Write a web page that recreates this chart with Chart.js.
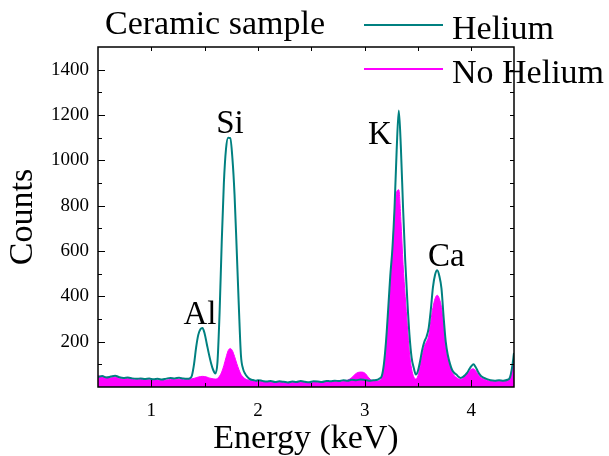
<!DOCTYPE html>
<html>
<head>
<meta charset="utf-8">
<title>Ceramic sample</title>
<script src="https://cdn.jsdelivr.net/npm/chart.js@4.4.0/dist/chart.umd.min.js"></script>
<style>
  html, body { margin: 0; padding: 0; background: #fff; }
  canvas { display: block; }
</style>
</head>
<body>
<canvas id="myChartSpectrum" width="609" height="456"></canvas>
<script>
// energy grid (keV), denser around the peaks
const energies = [
  0.50, 0.54, 0.58, 0.62, 0.66, 0.70, 0.74, 0.78, 0.82, 0.86, 0.90, 0.94, 0.98, 1.02, 1.06, 1.10, 1.14, 1.18, 1.22, 1.26, 1.30, 1.34,
  1.36, 1.38, 1.40, 1.42, 1.44, 1.46, 1.48, 1.50, 1.52, 1.54, 1.56, 1.58, 1.60, 1.62, 1.64, 1.66, 1.68, 1.70, 1.72, 1.74,
  1.76, 1.78, 1.80, 1.82, 1.84, 1.86, 1.88, 1.90, 1.92, 1.94, 1.96, 1.98, 2.00,
  2.04, 2.08, 2.12, 2.16, 2.20, 2.24, 2.28, 2.32, 2.36, 2.40, 2.44, 2.48, 2.52, 2.56, 2.60, 2.64, 2.68, 2.72, 2.76, 2.80,
  2.84, 2.88, 2.92, 2.96, 3.00, 3.04, 3.08,
  3.12, 3.14, 3.16, 3.18, 3.20, 3.22, 3.24, 3.26, 3.28, 3.30, 3.32, 3.34, 3.36, 3.38, 3.40, 3.42, 3.44, 3.46, 3.48, 3.50,
  3.52, 3.54, 3.56, 3.58, 3.60, 3.62, 3.64, 3.66, 3.68, 3.70, 3.72, 3.74, 3.76, 3.78, 3.80, 3.82, 3.84, 3.86, 3.88, 3.90,
  3.92, 3.94, 3.96, 3.98, 4.00, 4.02, 4.04, 4.06, 4.08, 4.10,
  4.14, 4.18, 4.22, 4.26, 4.30, 4.34, 4.36, 4.38, 4.40,
];

const helium = [
  44, 48, 42, 46, 50, 43, 40, 42, 38, 36, 38, 35, 37, 34, 36, 33, 37, 40, 38, 41, 37, 36,
  38, 50, 100, 175, 230, 255, 260, 235, 190, 145, 105, 75, 60, 110, 330, 640, 900, 1050, 1100, 1098,
  1010, 850, 610, 360, 140, 80, 58, 45, 36, 32, 30, 28, 30,
  27, 24, 26, 22, 25, 23, 20, 24, 22, 26, 23, 21, 25, 24, 22, 27, 25, 28, 26, 30,
  28, 32, 30, 33, 31, 28, 30,
  32, 38, 48, 100, 200, 340, 490, 610, 790, 1045, 1220, 1050, 790, 560, 381, 230, 130, 85, 55, 72,
  115, 165, 200, 222, 260, 340, 440, 495, 515, 490, 435, 310, 200, 140, 102, 75, 62, 55, 45, 40,
  44, 52, 62, 78, 92, 100, 88, 70, 55, 45,
  36, 30, 28, 30, 28, 32, 40, 80, 150,
];

const noHelium = [
  50, 46, 44, 40, 44, 38, 36, 38, 34, 32, 33, 31, 32, 30, 31, 29, 31, 33, 32, 33, 32, 33,
  34, 36, 38, 41, 44, 46, 47, 46, 44, 40, 38, 36, 35, 38, 48, 66, 95, 130, 160, 170,
  160, 135, 105, 78, 56, 44, 36, 32, 30, 28, 27, 26, 27,
  24, 22, 23, 20, 22, 21, 18, 21, 20, 23, 21, 19, 22, 21, 20, 24, 22, 25, 24, 27,
  30, 42, 60, 66, 62, 40, 26,
  26, 30, 40, 90, 180, 300, 440, 600, 770, 860, 870, 730, 540, 400, 270, 150, 80, 45, 35, 50,
  90, 140, 180, 200, 225, 290, 350, 390, 405, 390, 350, 270, 180, 125, 90, 65, 50, 42, 36, 34,
  40, 50, 60, 70, 78, 80, 72, 58, 46, 38,
  30, 26, 24, 26, 25, 30, 40, 80, 130,
];

const seriesLabels = ['Helium', 'No Helium'];
const peakLabels = ['Al', 'Si', 'K', 'Ca'];
const peakEnergy = [1.456, 1.737, 3.143, 3.766];
const peakCounts = [280, 1120, 1072, 533];
const chartTitle = 'Ceramic sample';
const xTitle = 'Energy (keV)';
const yTitle = 'Counts';

const serif = "'Liberation Serif', 'Times New Roman', serif";

// true when v sits on a multiple of step (float safe)
const onStep = (v, step) => Math.abs(v / step - Math.round(v / step)) < 1e-6;

const decorPlugin = {
  id: 'spectrumDecor',
  afterDraw(chart) {
    const {
      ctx,
      chartArea: { left, right, top, bottom },
      scales: { x, y },
    } = chart;
    ctx.save();
    ctx.fillStyle = '#000';

    // element labels on the peaks
    ctx.font = `33px ${serif}`;
    ctx.textAlign = 'center';
    ctx.textBaseline = 'alphabetic';
    peakLabels.forEach((label, i) => {
      ctx.fillText(label, x.getPixelForValue(peakEnergy[i]), y.getPixelForValue(peakCounts[i]));
    });

    // title
    ctx.font = `34px ${serif}`;
    ctx.textAlign = 'left';
    ctx.fillText(chartTitle, 105, 34);

    // legend
    chart.data.datasets.forEach((ds, i) => {
      const ly = 25 + i * 44;
      ctx.strokeStyle = ds.borderColor;
      ctx.lineWidth = 2;
      ctx.beginPath();
      ctx.moveTo(364, ly);
      ctx.lineTo(443, ly);
      ctx.stroke();
      ctx.fillText(ds.label, 452, ly + 14);
    });

    // inward ticks on all four sides
    ctx.strokeStyle = '#000';
    ctx.lineWidth = 1;
    ctx.beginPath();
    y.ticks.forEach((t) => {
      if (t.value <= 0 || t.value >= 1500) return;
      const py = Math.round(y.getPixelForValue(t.value)) + 0.5;
      const len = onStep(t.value, 200) ? 7 : 4;
      ctx.moveTo(left, py);
      ctx.lineTo(left + len, py);
      ctx.moveTo(right, py);
      ctx.lineTo(right - 4, py);
    });
    x.ticks.forEach((t) => {
      const v = t.value;
      if (v <= 0.51 || v >= 4.39 || !onStep(v, 0.5)) return;
      const px = Math.round(x.getPixelForValue(v)) + 0.5;
      const len = onStep(v, 1) ? 7 : 4;
      ctx.moveTo(px, bottom);
      ctx.lineTo(px, bottom - len);
      ctx.moveTo(px, top);
      ctx.lineTo(px, top + 4);
    });
    ctx.stroke();

    // frame
    ctx.lineWidth = 1.5;
    ctx.strokeRect(left, top, right - left, bottom - top);
    ctx.restore();
  },
};

function spectrumChart() {
  const ctx = document.getElementById('myChartSpectrum');

  if (ctx) {
    new Chart(ctx, {
      type: 'line',
      data: {
        datasets: [
          {
            label: seriesLabels[0],
            data: energies.map((e, i) => ({ x: e, y: helium[i] })),
            fill: false,
            pointRadius: 0,
            borderColor: '#008080',
            borderWidth: 2,
            cubicInterpolationMode: 'monotone',
          },
          {
            label: seriesLabels[1],
            data: energies.map((e, i) => ({ x: e, y: noHelium[i] })),
            fill: 'origin',
            pointRadius: 0,
            borderColor: '#FF00FF',
            backgroundColor: '#FF00FF',
            borderWidth: 1,
            cubicInterpolationMode: 'monotone',
          },
        ],
      },
      options: {
        responsive: false,
        animation: false,
        devicePixelRatio: 1,
        layout: {
          padding: { top: 47, right: 95, left: 0, bottom: 0 },
        },
        scales: {
          x: {
            type: 'linear',
            min: 0.5,
            max: 4.4,
            afterFit: (scale) => {
              scale.height = 69;
            },
            grid: { display: false, drawTicks: false },
            border: { display: false },
            ticks: {
              stepSize: 0.5,
              includeBounds: false,
              padding: 13,
              autoSkip: false,
              maxRotation: 0,
              color: '#000',
              font: { size: 19, family: serif },
              callback: (value) => (onStep(value, 1) ? Math.round(value) : ''),
            },
            title: {
              display: true,
              text: xTitle,
              color: '#000',
              padding: 0,
              font: { size: 34, family: serif, lineHeight: 1 },
            },
          },
          y: {
            min: 0,
            max: 1500,
            afterFit: (scale) => {
              scale.width = 98;
            },
            grid: { display: false, drawTicks: false },
            border: { display: false },
            ticks: {
              stepSize: 100,
              padding: 9,
              autoSkip: false,
              color: '#000',
              font: { size: 19, family: serif },
              callback: (value) => (onStep(value, 200) && value !== 0 ? value : ''),
            },
            title: {
              display: true,
              text: yTitle,
              color: '#000',
              padding: { top: 6, bottom: 0 },
              font: { size: 34, family: serif, lineHeight: 1 },
            },
          },
        },
        plugins: {
          legend: { display: false },
          tooltip: { enabled: false },
        },
      },
      plugins: [decorPlugin],
    });
  }
}

spectrumChart();
</script>
</body>
</html>
